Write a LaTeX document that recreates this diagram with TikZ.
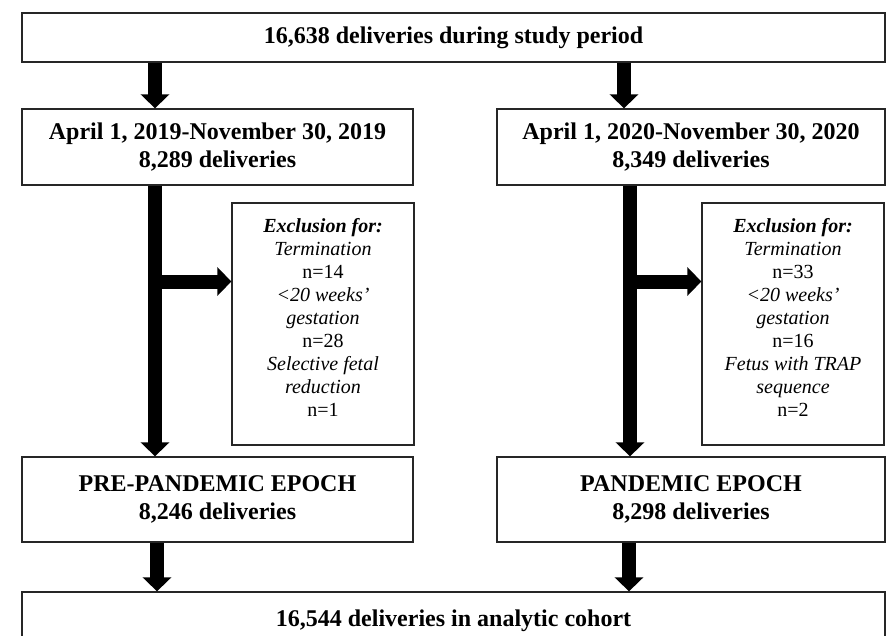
\documentclass[tikz,border=0pt]{standalone}
\usepackage{fontspec}
\setmainfont{Liberation Serif}
\usetikzlibrary{arrows.meta}
\tikzset{
  box/.style={draw=black!85, line width=1.3pt, fill=white, rectangle, inner sep=0pt,
    align=center, font=\fontsize{24}{28}\selectfont\bfseries},
  excltext/.style={inner sep=0pt, align=center, font=\fontsize{20}{23}\selectfont},
  bigarrow/.style={line width=14pt, -{Triangle[width=28pt,length=14pt]}, black}
}
\begin{document}
\begin{tikzpicture}[x=1pt,y=-1pt]
\path[use as bounding box, clip] (0,0) rectangle (894,635);
% boxes
\node[box, minimum width=863pt, minimum height=49pt] (top) at (453.5,37.5) {16,638 deliveries during study period};
\node[box, minimum width=391pt, minimum height=76pt] (l2) at (217.5,147) {April 1, 2019-November 30, 2019\\8,289 deliveries};
\node[box, minimum width=388pt, minimum height=76pt] (r2) at (691,147) {April 1, 2020-November 30, 2020\\8,349 deliveries};
\node[box, minimum width=182pt, minimum height=242pt] (lex) at (323,324) {};
\node[box, minimum width=182pt, minimum height=242pt] (rex) at (793,324) {};
\node[excltext] (lext) at (323,317) {\textbf{\textit{Exclusion for:}}\\\textit{Termination}\\n=14\\\textit{<20 weeks’}\\\textit{gestation}\\n=28\\\textit{Selective fetal}\\\textit{reduction}\\n=1};
\node[excltext] (rext) at (793,317) {\textbf{\textit{Exclusion for:}}\\\textit{Termination}\\n=33\\\textit{<20 weeks’}\\\textit{gestation}\\n=16\\\textit{Fetus with TRAP}\\\textit{sequence}\\n=2};
\node[box, minimum width=391pt, minimum height=85pt] (l3) at (217.5,499.5) {PRE-PANDEMIC EPOCH\\8,246 deliveries};
\node[box, minimum width=388pt, minimum height=85pt] (r3) at (691,499.5) {PANDEMIC EPOCH\\8,298 deliveries};
\node[box, minimum width=863pt, minimum height=58pt] (bot) at (453.5,621) {16,544 deliveries in analytic cohort};
% arrow x positions
\coordinate (xl1) at (155,0);
\coordinate (xr1) at (624,0);
\coordinate (xl2) at (155,0);
\coordinate (xr2) at (630,0);
\coordinate (xl3) at (157,0);
\coordinate (xr3) at (629,0);
\coordinate (jl) at (155,281.5);
\coordinate (jr) at (630,281.5);
% arrows
\draw[bigarrow] (top.south -| xl1) -- (l2.north -| xl1);
\draw[bigarrow] (top.south -| xr1) -- (r2.north -| xr1);
\draw[bigarrow] (l2.south -| xl2) -- (l3.north -| xl2);
\draw[bigarrow] (r2.south -| xr2) -- (r3.north -| xr2);
\draw[bigarrow] (jl) -- (lex.west |- jl);
\draw[bigarrow] (jr) -- (rex.west |- jr);
\draw[bigarrow] (l3.south -| xl3) -- (bot.north -| xl3);
\draw[bigarrow] (r3.south -| xr3) -- (bot.north -| xr3);
\end{tikzpicture}
\end{document}
